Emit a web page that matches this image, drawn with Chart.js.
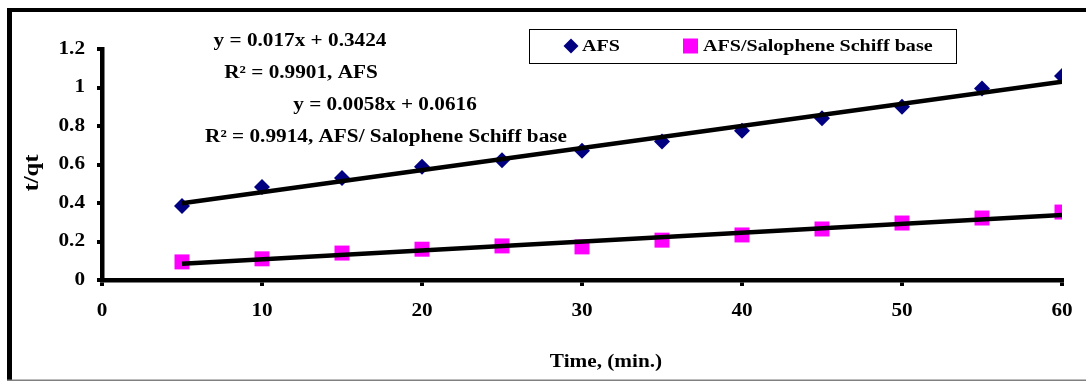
<!DOCTYPE html>
<html><head><meta charset="utf-8">
<script src="https://cdn.jsdelivr.net/npm/chart.js@4.4.1/dist/chart.umd.min.js"></script>
<style>html,body{margin:0;padding:0;background:#fff;overflow:hidden;} #wrap{width:1086px;height:381px;position:relative;}</style>
</head><body><div id="wrap"><canvas id="c" width="1086" height="381"></canvas></div>
<script>
// ---- data ----
const times = [5, 10, 15, 20, 25, 30, 35, 40, 45, 50, 55, 60];
const afsValues = [0.385, 0.483, 0.530, 0.588, 0.622, 0.672, 0.720, 0.775, 0.840, 0.900, 0.995, 1.060];
const salopheneValues = [0.094, 0.110, 0.140, 0.160, 0.177, 0.172, 0.207, 0.234, 0.265, 0.296, 0.322, 0.353];
const xTickLabels = ['0', '10', '20', '30', '40', '50', '60'];
const yTickLabels = ['0', '0.2', '0.4', '0.6', '0.8', '1', '1.2'];
const seriesNames = ['AFS', 'AFS/Salophene Schiff base'];
const equationTexts = ['y = 0.017x + 0.3424', 'R\u00B2 = 0.9901, AFS', 'y = 0.0058x + 0.0616', 'R\u00B2 = 0.9914, AFS/ Salophene Schiff base'];
const xTitle = 'Time, (min.)';
const yTitle = 't/qt';

// ---- styling ----
const FONT = '"Liberation Serif", "Times New Roman", Times, serif';
const TEXT_STRETCH = 1.18;
const NAVY = '#000080';
const PINK = '#FF00FF';

const canvas = document.getElementById('c');
const ctx0 = canvas.getContext('2d');
const origFill = ctx0.fillText.bind(ctx0);
ctx0.fillText = function (text, x, y, maxWidth) {
  this.save();
  this.translate(x, y);
  this.scale(TEXT_STRETCH, 1);
  if (maxWidth === undefined) origFill(text, 0, 0);
  else origFill(text, 0, 0, maxWidth / TEXT_STRETCH);
  this.restore();
};

function linearFit(xs, ys) {
  const n = xs.length;
  const mx = xs.reduce((a, b) => a + b, 0) / n;
  const my = ys.reduce((a, b) => a + b, 0) / n;
  let sxy = 0, sxx = 0;
  for (let i = 0; i < n; i++) { sxy += (xs[i] - mx) * (ys[i] - my); sxx += (xs[i] - mx) ** 2; }
  const slope = sxy / sxx, icpt = my - slope * mx;
  return [xs[0], xs[n - 1]].map(x => ({ x: x, y: icpt + slope * x }));
}
const toPts = (ys) => times.map((t, i) => ({ x: t, y: ys[i] }));

const decor = {
  id: 'decor',
  afterDraw(chart) {
    const c = chart.ctx;
    c.save();
    // frame
    c.fillStyle = '#000';
    c.fillRect(7, 8, 1086 - 7, 4);
    c.fillRect(7, 8, 5, 372);
    c.fillStyle = '#808080';
    c.fillRect(7, 379.5, 1086 - 7, 1.5);

    c.fillStyle = '#000';
    // axis titles
    c.font = 'bold 18px ' + FONT;
    c.textAlign = 'center';
    c.textBaseline = 'middle';
    c.fillText(xTitle, 606, 362);
    c.save();
    c.translate(33, 173);
    c.rotate(-Math.PI / 2);
    c.font = 'bold 21px ' + FONT;
    c.fillText(yTitle, 0, 0);
    c.restore();

    // equations
    c.font = 'bold 18px ' + FONT;
    const eqPos = [[300, 41], [301, 73], [385, 105], [386, 137]];
    equationTexts.forEach((t, i) => c.fillText(t, eqPos[i][0], eqPos[i][1]));

    // legend
    c.strokeStyle = '#000';
    c.lineWidth = 1;
    c.strokeRect(529.5, 29.5, 427, 34);
    const ds = chart.data.datasets;
    // diamond
    c.fillStyle = ds[0].backgroundColor;
    c.beginPath();
    c.moveTo(571, 38.5); c.lineTo(578.5, 46); c.lineTo(571, 53.5); c.lineTo(563.5, 46); c.closePath();
    c.fill();
    // square
    c.fillStyle = ds[1].backgroundColor;
    c.fillRect(683, 38.5, 15, 15);
    c.fillStyle = '#000';
    c.font = 'bold 17px ' + FONT;
    c.textAlign = 'left';
    c.textBaseline = 'middle';
    c.fillText(ds[0].label, 582, 47);
    c.fillText(ds[1].label, 703, 47);
    c.restore();
  }
};

const tickFont = { family: FONT, weight: 'bold', size: 18 };

new Chart(canvas, {
  type: 'scatter',
  data: {
    datasets: [
      { label: seriesNames[0], data: toPts(afsValues), pointStyle: 'rectRot', pointRadius: 8, pointHoverRadius: 8,
        backgroundColor: NAVY, borderColor: NAVY, borderWidth: 0, showLine: false, order: 2 },
      { label: seriesNames[1], data: toPts(salopheneValues), pointStyle: 'rect', pointRadius: 10.6, pointHoverRadius: 10.6,
        backgroundColor: PINK, borderColor: PINK, borderWidth: 0, showLine: false, order: 2 },
      { label: 'fitAFS', data: linearFit(times, afsValues), showLine: true, pointRadius: 0,
        borderColor: '#000', borderWidth: 4.5, order: 0 },
      { label: 'fitSal', data: linearFit(times, salopheneValues), showLine: true, pointRadius: 0,
        borderColor: '#000', borderWidth: 4.5, order: 0 }
    ]
  },
  options: {
    responsive: false,
    animation: false,
    events: [],
    layout: { padding: { top: 49, right: 21, bottom: 0, left: 0 } },
    plugins: { legend: { display: false }, tooltip: { enabled: false } },
    scales: {
      x: {
        type: 'linear', min: 0, max: 60,
        afterFit(s) { s.height = 101; },
        ticks: { stepSize: 10, autoSkip: false, maxRotation: 0, color: '#000', font: tickFont, padding: 15,
          callback: (v, i) => xTickLabels[i] },
        grid: { display: true, drawOnChartArea: false, drawTicks: true, tickLength: 6, lineWidth: 4, color: '#000' },
        border: { display: true, width: 4.5, color: '#000' }
      },
      y: {
        min: 0, max: 1.2,
        afterFit(s) { s.width = 102; },
        ticks: { stepSize: 0.2, color: '#000', font: tickFont, padding: 12,
          callback: (v, i) => yTickLabels[i] },
        grid: { display: true, drawOnChartArea: false, drawTicks: true, tickLength: 5, lineWidth: 4, color: '#000' },
        border: { display: true, width: 4.5, color: '#000' }
      }
    }
  },
  plugins: [decor]
});
</script>
</body></html>
